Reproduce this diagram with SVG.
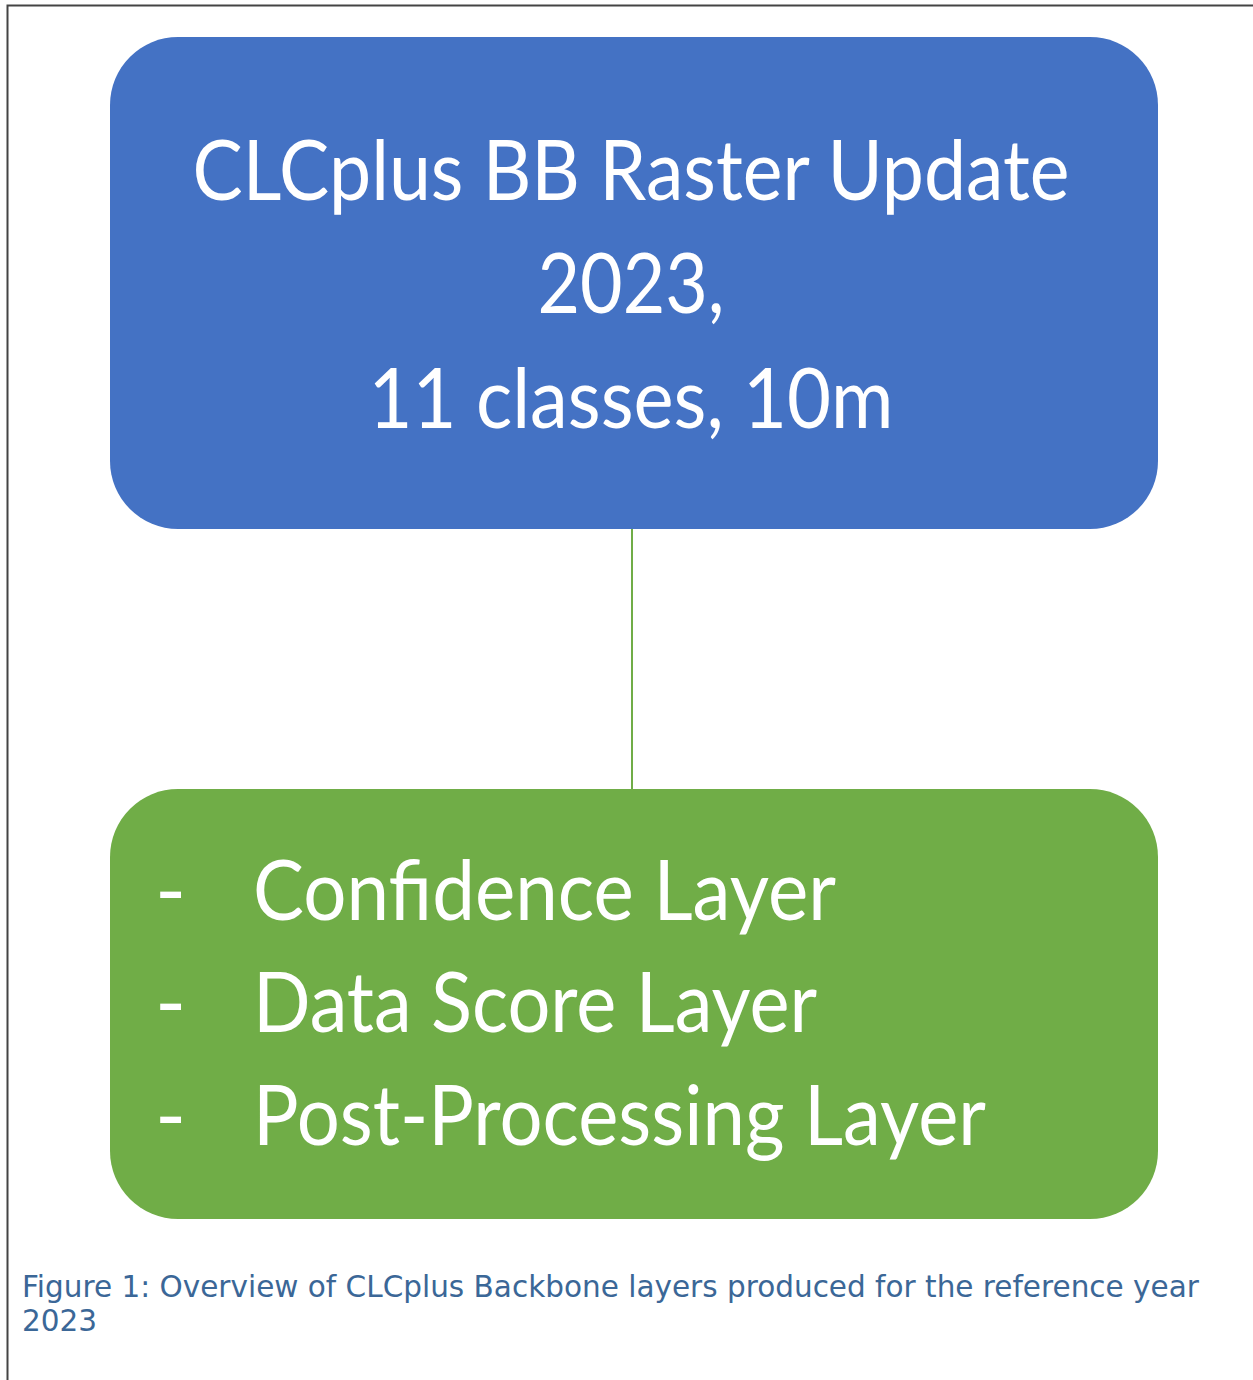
<svg xmlns="http://www.w3.org/2000/svg" width="1253" height="1380" viewBox="0 0 1253 1380">
<style>
.box-text{font-family:Lato,"Open Sans","Liberation Sans",sans-serif;fill:#ffffff;font-size:84px}
.caption{font-family:"DejaVu Sans",sans-serif;fill:#3b6797;font-size:29.5px}
</style>
<rect x="0" y="0" width="1253" height="1380" fill="#ffffff"/>
<path d="M7.5 1380 V5.5 H1253" fill="none" stroke="#444" stroke-width="2"/>
<g id="connectors">
<line x1="632" y1="528" x2="632" y2="790" stroke="#70AD47" stroke-width="2"/>
</g>
<g id="node-raster">
<rect x="110" y="37" width="1048" height="492" rx="68" ry="68" fill="#4472C4"/>
<text class="box-text" x="631" y="200" text-anchor="middle" textLength="877" lengthAdjust="spacingAndGlyphs">CLCplus BB Raster Update</text>
<text class="box-text" x="631" y="313" text-anchor="middle" textLength="187" lengthAdjust="spacingAndGlyphs">2023,</text>
<text class="box-text" x="631" y="428" text-anchor="middle" textLength="525" lengthAdjust="spacingAndGlyphs">11 classes, 10m</text>
</g>
<g id="node-layers">
<rect x="110" y="789" width="1048" height="430" rx="68" ry="68" fill="#70AD47"/>
<text class="box-text" x="155" y="920">-</text>
<text class="box-text" x="253" y="920" textLength="583" lengthAdjust="spacingAndGlyphs">Confidence Layer</text>
<text class="box-text" x="155" y="1032">-</text>
<text class="box-text" x="253" y="1032" textLength="564" lengthAdjust="spacingAndGlyphs">Data Score Layer</text>
<text class="box-text" x="155" y="1145">-</text>
<text class="box-text" x="253" y="1145" textLength="733" lengthAdjust="spacingAndGlyphs">Post-Processing Layer</text>
</g>
<g id="caption">
<text class="caption" x="22" y="1297">Figure 1: Overview of CLCplus Backbone layers produced for the reference year</text>
<text class="caption" x="22" y="1331">2023</text>
</g>
</svg>
